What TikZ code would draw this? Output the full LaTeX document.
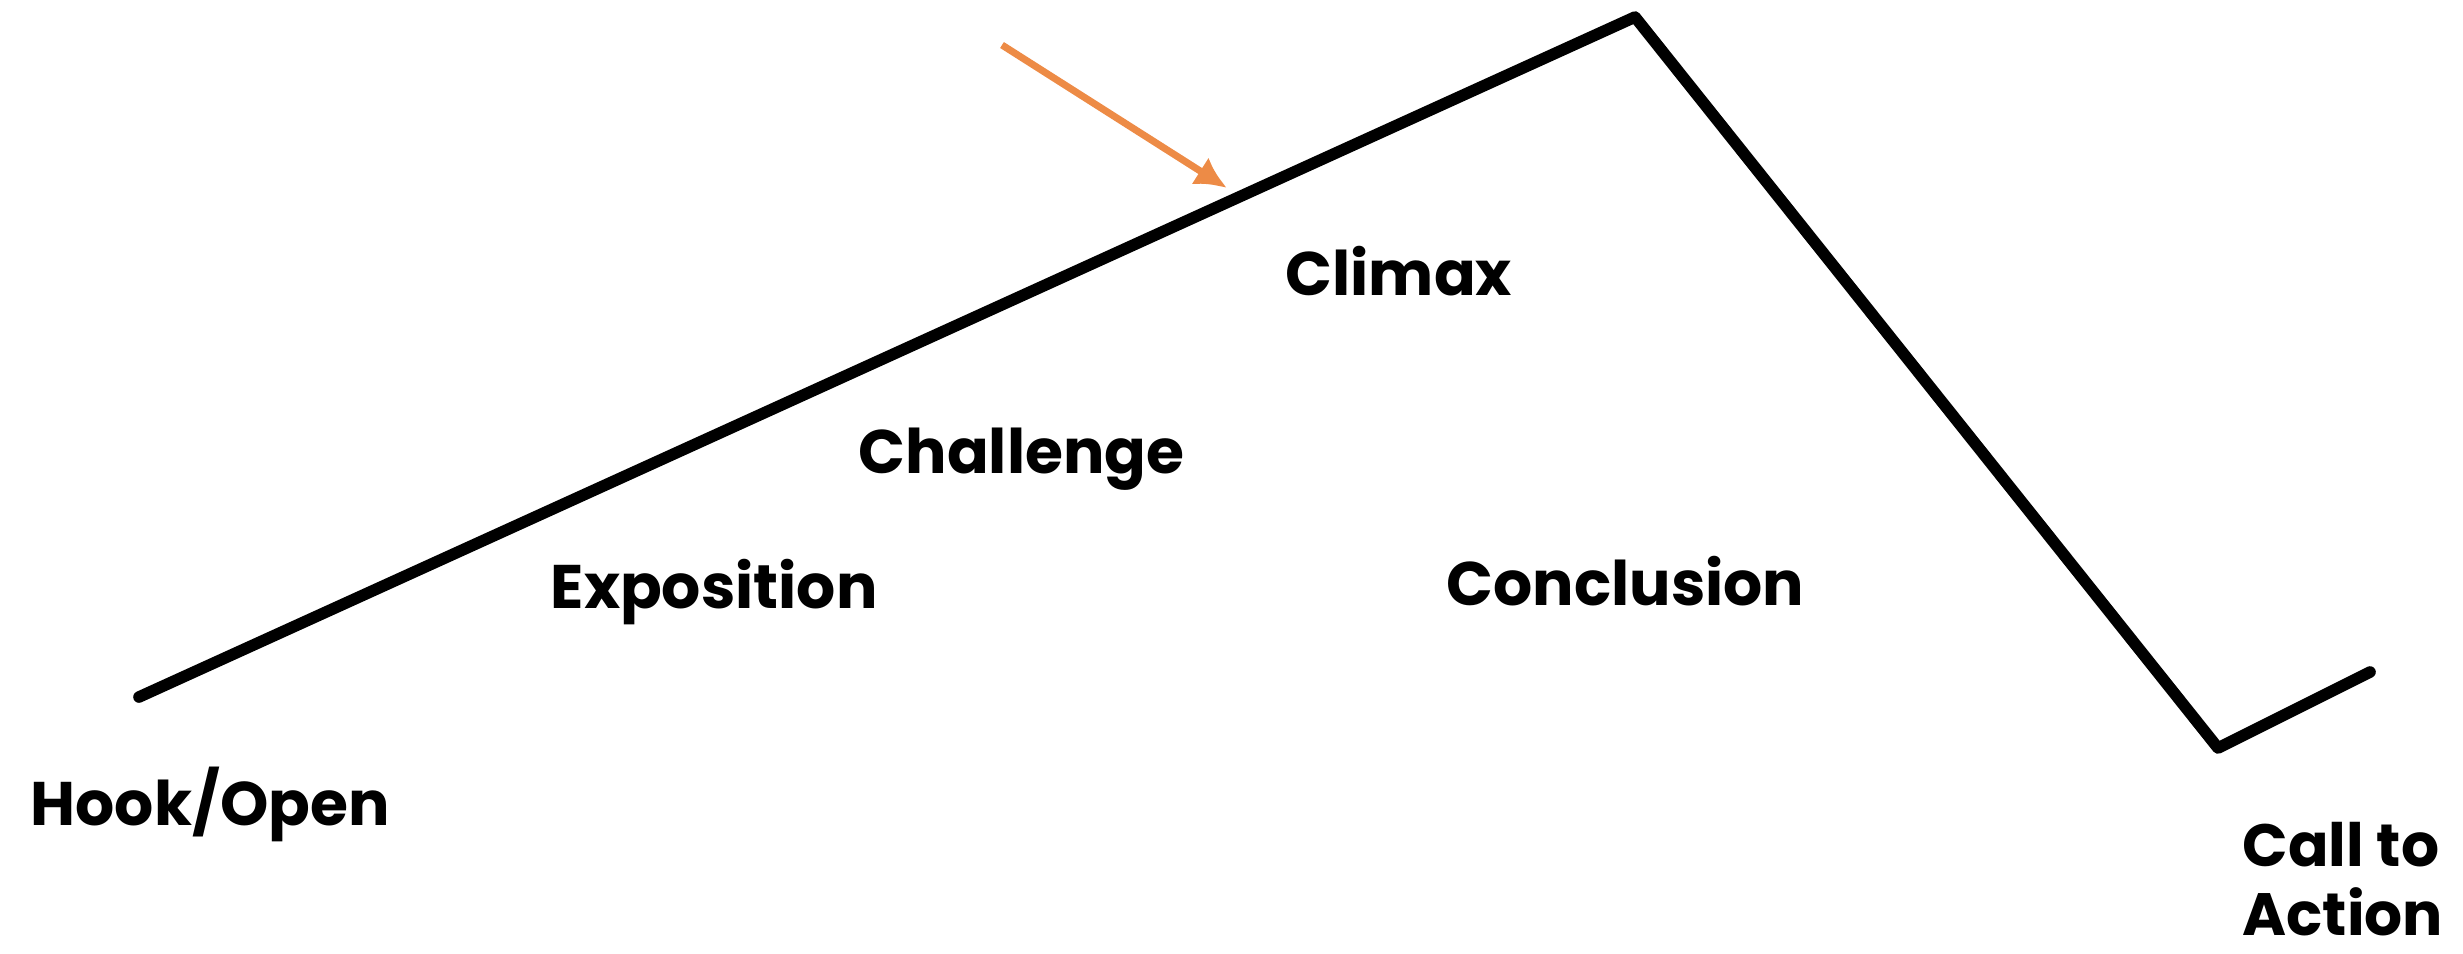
\documentclass[tikz,border=0pt]{standalone}
\usepackage{fontspec}
\setmainfont{Poppins}
\usetikzlibrary{arrows.meta}
\definecolor{arroworange}{RGB}{237,139,70}

\begin{document}
\begin{tikzpicture}[x=0.01cm, y=-0.01cm, >=Latex, every node/.style={font=\fontsize{17.5}{20}\selectfont\bfseries, inner sep=0pt, anchor=base west}]
    \useasboundingbox (0,0) rectangle (2463,953);

    \coordinate (hook) at (139,697);
    \coordinate (peak) at (1635,17);
    \coordinate (low) at (2218,748);
    \coordinate (act) at (2370,672);
    \draw[line width=3.3pt, line join=round, line cap=round] (hook) -- (peak) -- (low) -- (act);

    \coordinate (tail) at (1002,45);
    \coordinate (tip) at (1227,188);
    \draw[arroworange, line width=2pt, arrows={-Latex[length=9pt, width=9pt]}] (tail) -- (tip);

    \node (hooklbl) at (30,825) {Hook/Open};
    \node (explbl) at (550,608) {Exposition};
    \node (challbl) at (858,473) {Challenge};
    \node (climlbl) at (1285,295) {Climax};
    \node (conclbl) at (1446,605) {Conclusion};
    \node[font=\fontsize{17}{20}\selectfont\bfseries] (calllbl) at (2242,866) {Call to};
    \node[font=\fontsize{17}{20}\selectfont\bfseries] (actlbl) at (2242,935) {Action};
\end{tikzpicture}
\end{document}
